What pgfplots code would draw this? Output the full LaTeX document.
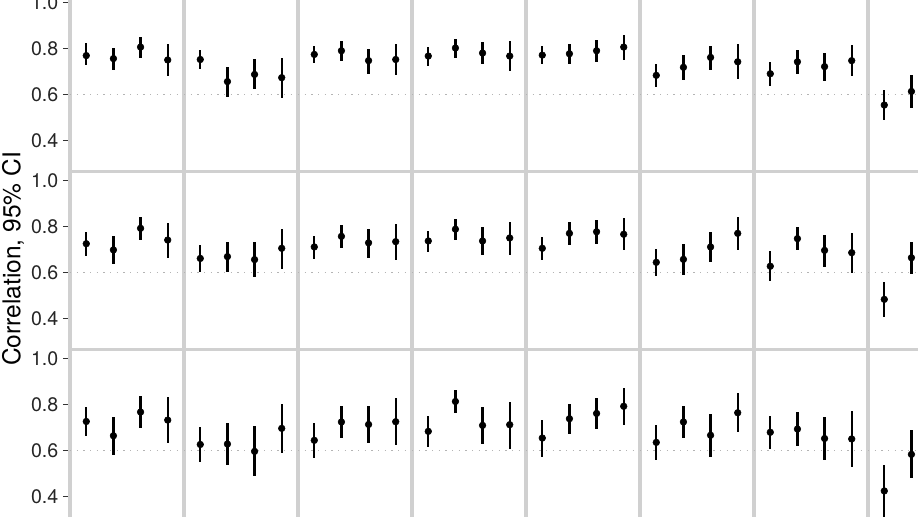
\documentclass[border=0pt]{standalone}
\usepackage{pgfplots}
\pgfplotsset{compat=1.18}
\usepackage{fontspec}
\setmainfont{TeX Gyre Heros}

\definecolor{panelgray}{RGB}{208,208,208}
\definecolor{refgray}{RGB}{180,180,180}
\definecolor{tickgray}{RGB}{51,51,51}

% one facet: 114 x 178 px, 1px = 0.75pt
\pgfplotsset{
  panel/.style={
    anchor=north west, scale only axis,
    width=85.5pt, height=133.5pt,
    xmin=0.4, xmax=4.6, ymin=0.266, ymax=1.040,
    xtick=\empty, ytick=\empty,
    axis line style={panelgray, line width=2.4pt},
  },
  leftpanel/.style={
    ytick={0.4,0.6,0.8,1.0}, ytick pos=left,
    tick align=outside, major tick length=5.25pt,
    ytick style={tickgray, line width=1.1pt},
    yticklabel style={font=\fontsize{14.7}{17}\selectfont, text=black!85,
      /pgf/number format/.cd, fixed, fixed zerofill, precision=1, assume math mode=true},
  },
  ci/.style={
    black, only marks, mark=*, mark size=2.5pt,
    error bars/.cd, y dir=both, y explicit, error mark=none,
    error bar style={line width=1.7pt, black},
  },
  refline/.style={refgray, line width=1pt, dash pattern=on 1pt off 4pt, forget plot},
}

% #1 row, #2 column, #3 extra options, #4 rows: x r lo hi
\newcommand{\panel}[4]{%
  \begin{axis}[panel, at={({(70+114*#2)*0.75pt},{(523.5-178*#1)*0.75pt})}, #3]
    \addplot[refline] coordinates {(0.4,0.6) (4.6,0.6)};
    \addplot[ci] table[row sep=\\,
      y error plus expr=\thisrow{hi}-\thisrow{r},
      y error minus expr=\thisrow{r}-\thisrow{lo}] {x r lo hi\\ #4};
  \end{axis}}

\begin{document}
\begin{tikzpicture}
\path[use as bounding box] (0,0) rectangle (688.5pt,387.75pt);
\clip (0,0) rectangle (688.5pt,387.75pt);

% row 1
\panel{0}{0}{leftpanel}{1 0.770 0.730 0.823\\ 2 0.757 0.706 0.801\\ 3 0.807 0.761 0.849\\ 4 0.751 0.683 0.820\\}
\panel{0}{1}{}{1 0.753 0.713 0.794\\ 2 0.657 0.591 0.720\\ 3 0.688 0.623 0.753\\ 4 0.674 0.585 0.761\\}
\panel{0}{2}{}{1 0.775 0.736 0.813\\ 2 0.791 0.748 0.832\\ 3 0.748 0.691 0.800\\ 4 0.753 0.686 0.822\\}
\panel{0}{3}{}{1 0.768 0.726 0.806\\ 2 0.803 0.761 0.842\\ 3 0.781 0.732 0.827\\ 4 0.768 0.703 0.832\\}
\panel{0}{4}{}{1 0.772 0.733 0.810\\ 2 0.778 0.733 0.822\\ 3 0.791 0.743 0.836\\ 4 0.807 0.751 0.861\\}
\panel{0}{5}{}{1 0.684 0.632 0.735\\ 2 0.719 0.664 0.771\\ 3 0.762 0.709 0.812\\ 4 0.743 0.667 0.819\\}
\panel{0}{6}{}{1 0.691 0.638 0.742\\ 2 0.743 0.691 0.793\\ 3 0.722 0.658 0.781\\ 4 0.748 0.680 0.814\\}
\panel{0}{7}{}{1 0.555 0.490 0.619\\ 2 0.614 0.540 0.686\\}

% row 2
\panel{1}{0}{leftpanel}{1 0.726 0.674 0.776\\ 2 0.699 0.639 0.758\\ 3 0.793 0.743 0.841\\ 4 0.742 0.664 0.817\\}
\panel{1}{1}{}{1 0.662 0.603 0.719\\ 2 0.670 0.604 0.733\\ 3 0.657 0.583 0.732\\ 4 0.706 0.617 0.790\\}
\panel{1}{2}{}{1 0.712 0.660 0.761\\ 2 0.758 0.707 0.807\\ 3 0.730 0.665 0.791\\ 4 0.735 0.655 0.812\\}
\panel{1}{3}{}{1 0.738 0.690 0.783\\ 2 0.789 0.742 0.832\\ 3 0.738 0.677 0.797\\ 4 0.751 0.678 0.822\\}
\panel{1}{4}{}{1 0.706 0.654 0.757\\ 2 0.771 0.722 0.819\\ 3 0.778 0.726 0.829\\ 4 0.767 0.697 0.837\\}
\panel{1}{5}{}{1 0.645 0.586 0.704\\ 2 0.658 0.590 0.726\\ 3 0.712 0.647 0.776\\ 4 0.771 0.700 0.841\\}
\panel{1}{6}{}{1 0.628 0.565 0.693\\ 2 0.748 0.697 0.800\\ 3 0.697 0.626 0.764\\ 4 0.687 0.597 0.774\\}
\panel{1}{7}{}{1 0.484 0.406 0.561\\ 2 0.665 0.596 0.733\\}

% row 3
\panel{2}{0}{leftpanel}{1 0.727 0.665 0.788\\ 2 0.665 0.581 0.745\\ 3 0.768 0.700 0.836\\ 4 0.733 0.633 0.833\\}
\panel{2}{1}{}{1 0.627 0.551 0.703\\ 2 0.629 0.536 0.722\\ 3 0.597 0.490 0.707\\ 4 0.697 0.588 0.803\\}
\panel{2}{2}{}{1 0.645 0.570 0.719\\ 2 0.725 0.653 0.794\\ 3 0.714 0.635 0.793\\ 4 0.726 0.623 0.829\\}
\panel{2}{3}{}{1 0.684 0.617 0.751\\ 2 0.814 0.764 0.864\\ 3 0.710 0.627 0.788\\ 4 0.713 0.607 0.813\\}
\panel{2}{4}{}{1 0.655 0.574 0.735\\ 2 0.739 0.673 0.804\\ 3 0.762 0.694 0.830\\ 4 0.793 0.713 0.874\\}
\panel{2}{5}{}{1 0.636 0.561 0.712\\ 2 0.725 0.653 0.794\\ 3 0.667 0.574 0.758\\ 4 0.765 0.680 0.853\\}
\panel{2}{6}{}{1 0.680 0.609 0.749\\ 2 0.694 0.619 0.768\\ 3 0.653 0.560 0.747\\ 4 0.651 0.529 0.774\\}
\panel{2}{7}{}{1 0.425 0.310 0.536\\ 2 0.584 0.483 0.688\\}

\node[rotate=90, font=\fontsize{18.4}{22}\selectfont] at (9.75pt,193.5pt) {Correlation, 95\% CI};
\end{tikzpicture}
\end{document}
